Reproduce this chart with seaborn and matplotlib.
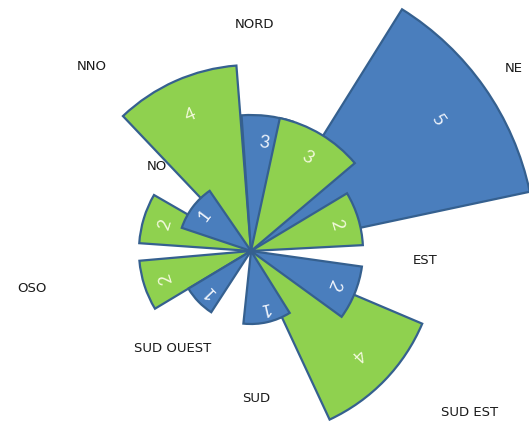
import numpy as np
import matplotlib
matplotlib.use("Agg")
import matplotlib.pyplot as plt
import seaborn as sns

# ---- data ----
sectors = ["N", "NNE", "NE", "E", "ESE", "SE", "S", "SW", "WSW", "W", "NW", "NNW"]
values = [3, 3, 5, 2, 2, 4, 1, 1, 2, 2, 1, 4]
series = ["A", "B", "A", "B", "A", "B", "A", "A", "B", "B", "A", "B"]
center_deg = [7, 31, 55, 73, 112, 134, 167, 226, 252, 287, 307, 336]
span_deg = [22, 37.5, 46, 28, 28, 42, 38, 26, 26, 26, 37, 39]

dir_labels = ["NORD", "NE", "EST", "SUD EST", "SUD", "SUD OUEST", "OSO", "NO", "NNO"]
dir_label_px = [(255, 25), (514, 68), (425, 261), (470, 412), (256, 399),
                (173, 349), (32, 288), (157, 167), (92, 67)]

# ---- style ----
sns.set_theme(style="white")
plt.rcParams["font.family"] = ["DejaVu Sans"]
fill = {"A": "#4a7ebd", "B": "#8fd14f"}
num_col = {"A": "#eef3fb", "B": "#f2f9dc"}
edge = "#35608f"

W, H = 529, 424
fig = plt.figure(figsize=(W / 100, H / 100), dpi=100)
fig.patch.set_facecolor("white")

cx, cy = 251, H - 251
R = 300
ax = fig.add_axes([(cx - R) / W, (cy - R) / H, 2 * R / W, 2 * R / H], projection="polar")

# radial scale of the original drawing (value -> drawn length)
VK = np.array([0, 1, 2, 3, 4, 5, 6], dtype=float)
PK = np.array([0, 73, 112, 136, 186, 285, 385], dtype=float)
fwd = lambda v: np.interp(v, VK, PK)
inv = lambda p: np.interp(p, PK, VK)
ax.set_rscale("function", functions=(fwd, inv))
ax.set_theta_zero_location("N")
ax.set_theta_direction(-1)
ax.set_ylim(0, float(inv(R)))
ax.set_axis_off()

for i in range(len(values)):
    v = values[i]
    s = series[i]
    z = 10 - v + (0.5 if s == "B" else 0)
    ax.bar(np.deg2rad(center_deg[i]), v, width=np.deg2rad(span_deg[i]), bottom=0,
           color=fill[s], edgecolor=edge, linewidth=1.6, zorder=z)
    rl = float(inv(0.8 * fwd(v)))
    ax.text(np.deg2rad(center_deg[i]), rl, str(v), color=num_col[s],
            fontsize=13, family=["Lato", "DejaVu Sans"],
            rotation=-center_deg[i], rotation_mode="anchor",
            ha="center", va="center", zorder=30)

for lab, (px, py) in zip(dir_labels, dir_label_px):
    fig.text(px / W, 1 - py / H, lab, fontsize=9.5, color="#1a1a1a",
             ha="center", va="center", zorder=40)

fig.savefig("out.png", dpi=100, facecolor="white")
